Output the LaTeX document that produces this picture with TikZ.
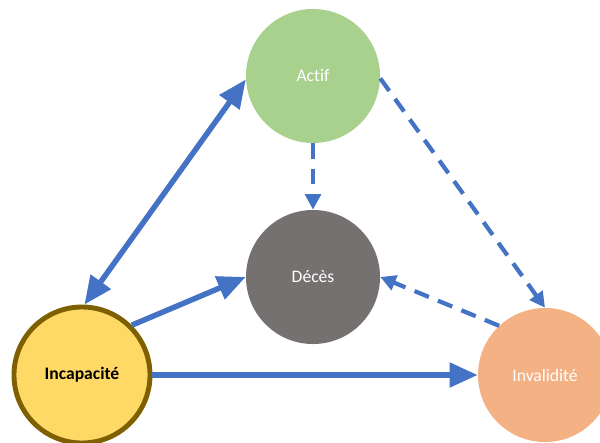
\documentclass[tikz,border=0pt]{standalone}
\usepackage{fontspec}
\setmainfont{Carlito}[Ligatures={NoCommon,NoContextual}]
\usepackage{xcolor}
\usetikzlibrary{arrows.meta}
\definecolor{actifgreen}{HTML}{A9D18E}
\definecolor{decesgray}{HTML}{767171}
\definecolor{invorange}{HTML}{F4B183}
\definecolor{incyellow}{HTML}{FFD966}
\definecolor{incborder}{HTML}{7F6000}
\definecolor{arrowblue}{HTML}{4472C4}
\tikzset{
	state/.style={circle, minimum size=3.35cm, inner sep=0pt, text=white, font=\fontsize{12.5}{15}\selectfont},
	trans/.style={draw=arrowblue, line width=3.9pt, -{Triangle[length=20pt, width=17pt]}},
	dtrans/.style={draw=arrowblue, line width=3pt, dash pattern=on 11pt off 7pt, -{Triangle[length=11pt, width=11pt]}}
}

\begin{document}
\begin{tikzpicture}[x=0.025cm, y=-0.025cm]
	\useasboundingbox (0,0) rectangle (600,442);
	% States
	\node[state, fill=actifgreen] (act) at (313, 76) {Actif}; %active
	\node[state, fill=decesgray] (dec) at (313, 277) {Décès}; %death
	\node[state, fill=invorange] (inv) at (545, 375) {Invalidité}; %invalidity
	\node[state, fill=incyellow, draw=incborder, line width=3.5pt, minimum size=3.4cm, text=black, font=\fontsize{12.5}{15}\selectfont\bfseries] (inc) at (82, 375) {Incapacité}; %incapacity

	% Transitions
	\draw[trans, {Triangle[length=20pt, width=17pt]}-{Triangle[length=20pt, width=17pt]}] (inc.88) -- (act.183);
	\draw[trans] (inc.45) -- (dec.west);
	\draw[trans] (inc.east) -- (inv.west);
	\draw[dtrans] (act.south) -- (dec.north);
	\draw[dtrans] (act.-2) -- (inv.north);
	\draw[dtrans] (inv.133) -- (dec.east);
\end{tikzpicture}
\end{document}
